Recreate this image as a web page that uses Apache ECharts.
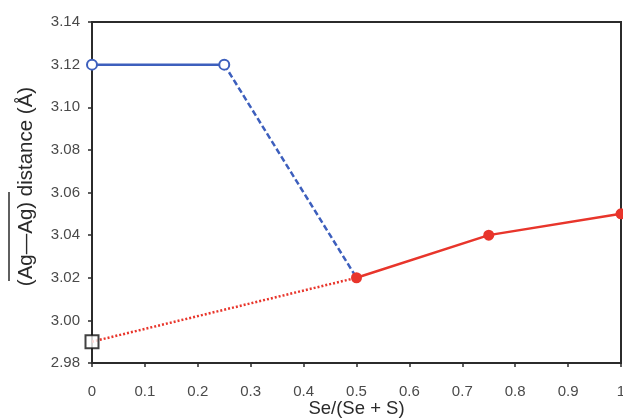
<!DOCTYPE html>
<html>
<head>
<meta charset="utf-8">
<script src="https://cdn.jsdelivr.net/npm/echarts@6/dist/echarts.min.js"></script>
<style>
html,body{margin:0;padding:0;background:#fff;}
#c{width:623px;height:420px;}
</style>
</head>
<body>
<div id="c"></div>
<script>
// Data
const xTickLabels = ['0','0.1','0.2','0.3','0.4','0.5','0.6','0.7','0.8','0.9','1'];
const yTickLabels = ['2.98','3.00','3.02','3.04','3.06','3.08','3.10','3.12','3.14'];
const blueSolid = [[0, 3.12], [0.25, 3.12]];
const blueDashed = [[0.25, 3.12], [0.5, 3.02]];
const redSolid = [[0.5, 3.02], [0.75, 3.04], [1, 3.05]];
const redDotted = [[0, 2.99], [0.5, 3.02]];
const blackSquare = [[0, 2.99]];

const BLUE = '#3d5fbd';
const RED = '#e8352b';
const AX = '#2b2b2b';
const LBL = '#4a4a4a';

const chart = echarts.init(document.getElementById('c'), null, {renderer: 'canvas'});
chart.setOption({
  animation: false,
  backgroundColor: '#ffffff',
  grid: {left: 92, right: 2, top: 22, bottom: 57, containLabel: false, outerBoundsMode: 'none',
    show: true, borderColor: AX, borderWidth: 2, backgroundColor: 'transparent'},
  xAxis: {
    type: 'value', min: 0, max: 1, interval: 0.1,
    name: 'Se/(Se + S)', nameLocation: 'middle', nameGap: 36, nameMoveOverlap: false,
    nameTextStyle: {fontFamily: 'Liberation Sans', fontSize: 18.5, color: '#2a2a2a'},
    axisLine: {show: true, onZero: false, lineStyle: {color: AX, width: 2}},
    axisTick: {show: true, inside: false, length: 4, lineStyle: {color: AX, width: 1.5}},
    axisLabel: {margin: 21, fontFamily: 'Liberation Sans', fontSize: 15, color: LBL,
      formatter: function(v){ return xTickLabels[Math.round(v*10)]; }},
    splitLine: {show: false}
  },
  yAxis: {
    type: 'value', min: 2.98, max: 3.14, interval: 0.02,
    name: '(Ag\u2014Ag) distance (\u00C5)', nameLocation: 'middle', nameGap: 55, nameRotate: 90, nameMoveOverlap: false,
    nameTextStyle: {fontFamily: 'Liberation Sans', fontSize: 20.5, color: '#2a2a2a', padding: [0, 0, 0, 12]},
    axisLine: {show: true, onZero: false, lineStyle: {color: AX, width: 2}},
    axisTick: {show: true, inside: false, length: 4, lineStyle: {color: AX, width: 1.5}},
    axisLabel: {margin: 12, fontFamily: 'Liberation Sans', fontSize: 15, color: LBL,
      formatter: function(v){ return yTickLabels[Math.round((v-2.98)/0.02)]; }},
    splitLine: {show: false}
  },
  graphic: [{
    type: 'line', z: 100,
    shape: {x1: 9, y1: 192, x2: 9, y2: 281},
    style: {stroke: '#2a2a2a', lineWidth: 1.5}
  }],
  series: [
    {type: 'line', data: redDotted, symbol: 'none', z: 2,
      lineStyle: {color: RED, width: 2.5, type: [2, 2]}},
    {type: 'line', data: blueDashed, symbol: 'none', z: 2,
      lineStyle: {color: BLUE, width: 2.5, type: [6, 3]}},
    {type: 'line', data: redSolid, symbol: 'circle', symbolSize: 11, z: 3,
      lineStyle: {color: RED, width: 2.5}, itemStyle: {color: RED, borderWidth: 0}},
    {type: 'line', data: blueSolid, symbol: 'circle', symbolSize: 10, z: 3,
      lineStyle: {color: BLUE, width: 2.5}, itemStyle: {color: '#ffffff', borderColor: BLUE, borderWidth: 2}},
    {type: 'scatter', data: blackSquare, symbol: 'rect', symbolSize: 13, z: 4,
      itemStyle: {color: '#ffffff', borderColor: '#111111', borderWidth: 2}}
  ]
});
</script>
</body>
</html>
